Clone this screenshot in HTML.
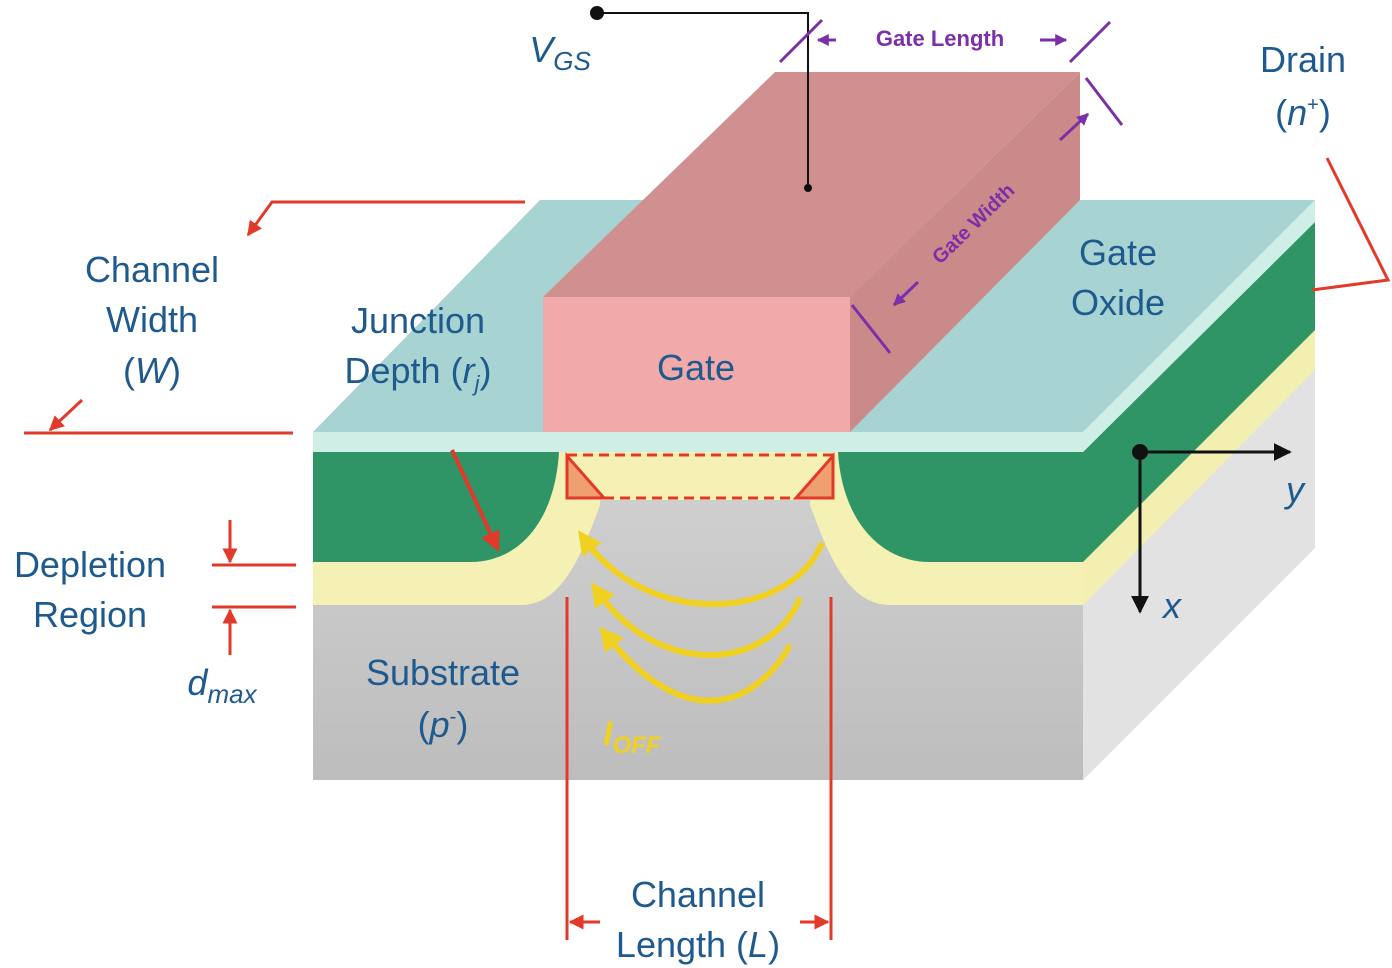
<!DOCTYPE html>
<html><head><meta charset="utf-8"><style>
html,body{margin:0;padding:0;background:#fff;}
svg{display:block;}
text{font-family:"Liberation Sans",sans-serif;}
</style></head><body>
<svg width="1392" height="968" viewBox="0 0 1392 968" xmlns="http://www.w3.org/2000/svg">
<defs>
<linearGradient id="sub" x1="0" y1="0" x2="0" y2="1"><stop offset="0" stop-color="#d2d2d2"/><stop offset="1" stop-color="#bdbdbd"/></linearGradient>
<marker id="ar" viewBox="0 0 10 10" refX="9" refY="5" markerWidth="5" markerHeight="5" orient="auto"><path d="M0,0L10,5L0,10z" fill="#e23a2a"/></marker>
<marker id="ap" viewBox="0 0 10 10" refX="9" refY="5" markerWidth="4" markerHeight="4" orient="auto"><path d="M0,0L10,5L0,10z" fill="#7b2fa8"/></marker>
<marker id="ak" viewBox="0 0 10 10" refX="9" refY="5" markerWidth="6" markerHeight="6" orient="auto"><path d="M0,0L10,5L0,10z" fill="#111"/></marker>
<marker id="ay" viewBox="0 0 10 10" refX="5" refY="5" markerWidth="4" markerHeight="4" orient="auto"><path d="M0,0L10,5L0,10z" fill="#f0d020"/></marker>
</defs>
<polygon points="1083,452 1315,222 1315,548 1083,780" fill="#e2e2e2"/>
<polygon points="1083,452 1315,222 1315,370 1083,605" fill="#f3efb0"/>
<polygon points="1083,452 1315,222 1315,330 1083,562" fill="#2f9466"/>
<polygon points="1083,432 1315,200 1315,222 1083,452" fill="#cfeee6"/>
<polygon points="313,432 540,200 1315,200 1083,432" fill="#a8d3d3"/>
<rect x="313" y="452" width="770" height="328" fill="url(#sub)"/>
<path d="M313,452 L600,452 L600,505 C580,560 560,605 521,605 L313,605 Z" fill="#f5f0b4"/>
<path d="M1083,452 L810,452 L810,505 C830,560 850,605 890,605 L1083,605 Z" fill="#f5f0b4"/>
<rect x="595" y="452" width="220" height="48" fill="#f5f0b4"/>
<path d="M313,452 L559,452 C555,520 520,562 470,562 L313,562 Z" fill="#2f9466"/>
<path d="M1083,452 L838,452 C842,520 880,562 930,562 L1083,562 Z" fill="#2f9466"/>
<rect x="313" y="432" width="770" height="20" fill="#cfeee6"/>
<polygon points="567,456 567,498 604,498" fill="#f0a070" stroke="#e23a2a" stroke-width="3"/>
<polygon points="833,456 833,498 796,498" fill="#f0a070" stroke="#e23a2a" stroke-width="3"/>
<rect x="567" y="455" width="266" height="43" fill="none" stroke="#e23a2a" stroke-width="3" stroke-dasharray="10,6"/>
<polygon points="543,297 775,72 1080,72 850,297" fill="#d09090"/>
<polygon points="850,297 1080,72 1080,200 850,432" fill="#cb8a8a"/>
<rect x="543" y="297" width="307" height="135" fill="#f2a9a9"/>
<polyline points="597,13 808,13 808,188" fill="none" stroke="#111" stroke-width="2"/>
<circle cx="597" cy="13" r="7" fill="#111"/><circle cx="808" cy="188" r="4" fill="#111"/>
<line x1="780" y1="62" x2="822" y2="20" stroke="#7b2fa8" stroke-width="3"/>
<line x1="1070" y1="62" x2="1110" y2="22" stroke="#7b2fa8" stroke-width="3"/>
<line x1="1086" y1="78" x2="1122" y2="125" stroke="#7b2fa8" stroke-width="3"/>
<line x1="852" y1="305" x2="890" y2="353" stroke="#7b2fa8" stroke-width="3"/>
<line x1="836" y1="40" x2="818" y2="40" stroke="#7b2fa8" stroke-width="3" marker-end="url(#ap)"/>
<line x1="1040" y1="40" x2="1066" y2="40" stroke="#7b2fa8" stroke-width="3" marker-end="url(#ap)"/>
<line x1="1060" y1="140" x2="1088" y2="114" stroke="#7b2fa8" stroke-width="3" marker-end="url(#ap)"/>
<line x1="918" y1="282" x2="894" y2="305" stroke="#7b2fa8" stroke-width="3" marker-end="url(#ap)"/>
<text x="940" y="46" font-size="22" fill="#7b2fa8" text-anchor="middle" font-weight="bold">Gate Length</text>
<text x="0" y="0" font-size="20" fill="#7b2fa8" font-weight="bold" transform="translate(940,265) rotate(-44)">Gate Width</text>
<polyline points="525,202 272,202 248,235" fill="none" stroke="#e23a2a" stroke-width="3" marker-end="url(#ar)"/>
<polyline points="24,433 293,433" fill="none" stroke="#e23a2a" stroke-width="3"/>
<line x1="82" y1="400" x2="50" y2="430" stroke="#e23a2a" stroke-width="3" marker-end="url(#ar)"/>
<polyline points="1327,158 1388,280 1312,290" fill="none" stroke="#e23a2a" stroke-width="3"/>
<line x1="452" y1="450" x2="498" y2="550" stroke="#e23a2a" stroke-width="4" marker-end="url(#ar)"/>
<line x1="212" y1="565" x2="296" y2="565" stroke="#e23a2a" stroke-width="3"/>
<line x1="212" y1="607" x2="296" y2="607" stroke="#e23a2a" stroke-width="3"/>
<line x1="230" y1="520" x2="230" y2="562" stroke="#e23a2a" stroke-width="3" marker-end="url(#ar)"/>
<line x1="230" y1="655" x2="230" y2="610" stroke="#e23a2a" stroke-width="3" marker-end="url(#ar)"/>
<line x1="567" y1="597" x2="567" y2="940" stroke="#e23a2a" stroke-width="3"/>
<line x1="831" y1="597" x2="831" y2="940" stroke="#e23a2a" stroke-width="3"/>
<line x1="600" y1="922" x2="570" y2="922" stroke="#e23a2a" stroke-width="3" marker-end="url(#ar)"/>
<line x1="800" y1="922" x2="828" y2="922" stroke="#e23a2a" stroke-width="3" marker-end="url(#ar)"/>
<path d="M822,543 C790,620 650,630 585,540" fill="none" stroke="#f0d020" stroke-width="6" marker-end="url(#ay)"/>
<path d="M800,598 C770,670 660,680 598,592" fill="none" stroke="#f0d020" stroke-width="6" marker-end="url(#ay)"/>
<path d="M790,645 C760,700 690,740 607,636" fill="none" stroke="#f0d020" stroke-width="6" marker-end="url(#ay)"/>
<line x1="1140" y1="452" x2="1290" y2="452" stroke="#111" stroke-width="3" marker-end="url(#ak)"/>
<line x1="1140" y1="452" x2="1140" y2="612" stroke="#111" stroke-width="3" marker-end="url(#ak)"/>
<circle cx="1140" cy="452" r="8" fill="#111"/>
<g fill="#1f5a8f" font-size="36" text-anchor="middle">
<text x="560" y="62" font-style="italic">V<tspan font-size="26" dy="8">GS</tspan></text>
<text x="1303" y="72">Drain</text>
<text x="1303" y="125">(<tspan font-style="italic">n</tspan><tspan font-size="20" dy="-14">+</tspan><tspan dy="14">)</tspan></text>
<text x="152" y="282">Channel</text>
<text x="152" y="332">Width</text>
<text x="152" y="383">(<tspan font-style="italic">W</tspan>)</text>
<text x="418" y="333">Junction</text>
<text x="418" y="383">Depth (<tspan font-style="italic">r<tspan font-size="22" dy="8">j</tspan></tspan><tspan dy="-8">)</tspan></text>
<text x="696" y="380">Gate</text>
<text x="1118" y="265">Gate</text>
<text x="1118" y="315">Oxide</text>
<text x="90" y="577">Depletion</text>
<text x="90" y="627">Region</text>
<text x="222" y="695" font-style="italic">d<tspan font-size="26" dy="8">max</tspan></text>
<text x="443" y="685">Substrate</text>
<text x="443" y="737">(<tspan font-style="italic">p</tspan><tspan font-size="20" dy="-14">-</tspan><tspan dy="14">)</tspan></text>
<text x="698" y="907">Channel</text>
<text x="698" y="957">Length (<tspan font-style="italic">L</tspan>)</text>
<text x="1295" y="502" font-style="italic">y</text>
<text x="1172" y="618" font-style="italic">x</text>
</g>
<text x="603" y="745" font-size="34" fill="#f0d020" font-style="italic" font-weight="bold">I<tspan font-size="24" dy="8">OFF</tspan></text>
</svg>
</body></html>
